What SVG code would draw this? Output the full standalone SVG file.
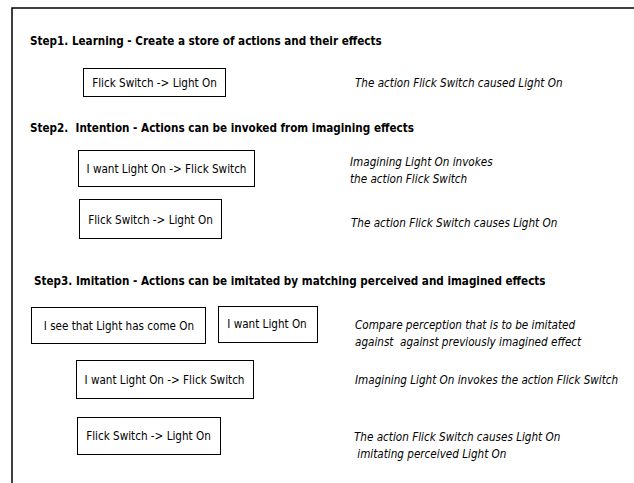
<svg xmlns="http://www.w3.org/2000/svg" width="634" height="483" viewBox="0 0 634 483">
<style>
.frame{fill:none;stroke:#000;stroke-width:1.5}
.box{fill:#fff;stroke:#000;stroke-width:1}
.t{font-family:'DejaVu Sans Condensed','DejaVu Sans',sans-serif;font-stretch:condensed;font-size:11.6px;fill:#000}
.h{font-family:'DejaVu Sans Condensed','DejaVu Sans',sans-serif;font-stretch:condensed;font-size:11.6px;font-weight:bold;fill:#000}
.i{font-family:'DejaVu Sans Condensed','DejaVu Sans',sans-serif;font-stretch:condensed;font-size:11.6px;font-style:italic;fill:#000}
</style>
<rect width="634" height="483" fill="#fff"/>
<path class="frame" d="M12,483 V8 H634"/>
<g id="titles">
<text class="h" x="30" y="45">Step1. Learning - Create a store of actions and their effects</text>
<text class="h" x="30" y="132" xml:space="preserve">Step2.  Intention - Actions can be invoked from imagining effects</text>
<text class="h" x="34" y="285">Step3. Imitation - Actions can be imitated by matching perceived and imagined effects</text>
</g>
<g id="connectors"/>
<g id="n1"><rect class="box" x="83.5" y="68.5" width="142" height="28"/><text class="t" x="154.5" y="86.5" text-anchor="middle">Flick Switch -&gt; Light On</text></g>
<g id="n2"><rect class="box" x="78.5" y="150.5" width="176" height="36"/><text class="t" x="166.5" y="172.5" text-anchor="middle">I want Light On -&gt; Flick Switch</text></g>
<g id="n3"><rect class="box" x="79.5" y="199.5" width="142" height="39"/><text class="t" x="150.5" y="223.5" text-anchor="middle">Flick Switch -&gt; Light On</text></g>
<g id="n4"><rect class="box" x="31.5" y="307.5" width="174" height="36"/><text class="t" x="119" y="329.5" text-anchor="middle">I see that Light has come On</text></g>
<g id="n5"><rect class="box" x="218.5" y="306.5" width="99" height="36"/><text class="t" x="267" y="327.5" text-anchor="middle">I want Light On</text></g>
<g id="n6"><rect class="box" x="76.5" y="360.5" width="177" height="38"/><text class="t" x="164.5" y="383.5" text-anchor="middle">I want Light On -&gt; Flick Switch</text></g>
<g id="n7"><rect class="box" x="77.5" y="417.5" width="143" height="37"/><text class="t" x="148.5" y="439.5" text-anchor="middle">Flick Switch -&gt; Light On</text></g>
<g id="notes">
<text class="i" x="355" y="87">The action Flick Switch caused Light On</text>
<text class="i" x="350" y="166">Imagining Light On invokes</text>
<text class="i" x="350" y="183">the action Flick Switch</text>
<text class="i" x="351" y="227">The action Flick Switch causes Light On</text>
<text class="i" x="355" y="329">Compare perception that is to be imitated</text>
<text class="i" x="355" y="346" xml:space="preserve">against  against previously imagined effect</text>
<text class="i" x="355" y="384">Imagining Light On invokes the action Flick Switch</text>
<text class="i" x="354" y="441">The action Flick Switch causes Light On</text>
<text class="i" x="354" y="458" xml:space="preserve"> imitating perceived Light On</text>
</g>
</svg>
